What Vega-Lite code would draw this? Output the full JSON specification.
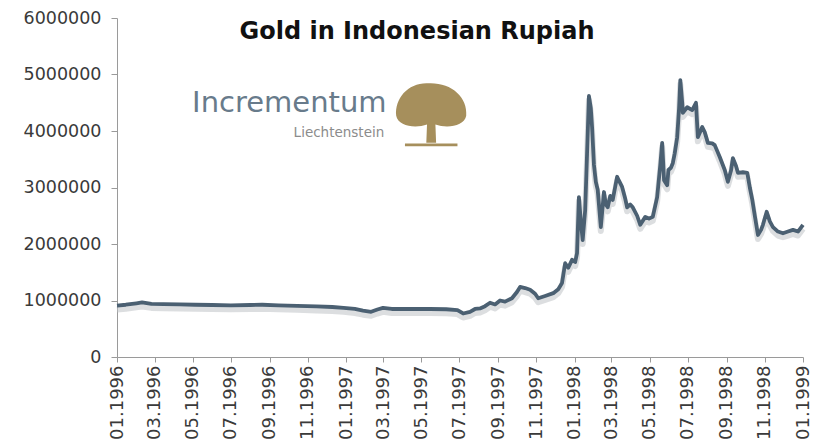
{
  "$schema": "https://vega.github.io/schema/vega-lite/v6.json",
  "width": 686,
  "height": 339,
  "autosize": {"type": "none"},
  "padding": {"left": 117, "top": 18, "right": 18, "bottom": 89},
  "background": "white",
  "config": {"view": {"stroke": null}, "font": "DejaVu Sans"},
  "title": {
    "text": "Gold in Indonesian Rupiah",
    "font": "DejaVu Sans",
    "fontSize": 24,
    "fontWeight": "bold",
    "color": "#111111",
    "anchor": "middle",
    "orient": "top",
    "offset": 0,
    "baseline": "alphabetic",
    "dx": -43,
    "dy": 54
  },
  "datasets": {
    "gold": [
      {"date": "1996-01-01", "price": 910000},
      {"date": "1996-01-15", "price": 925000},
      {"date": "1996-02-01", "price": 950000},
      {"date": "1996-02-10", "price": 965000},
      {"date": "1996-02-25", "price": 940000},
      {"date": "1996-03-15", "price": 935000},
      {"date": "1996-04-10", "price": 930000},
      {"date": "1996-05-05", "price": 925000},
      {"date": "1996-06-01", "price": 920000},
      {"date": "1996-07-01", "price": 915000},
      {"date": "1996-08-01", "price": 920000},
      {"date": "1996-08-20", "price": 925000},
      {"date": "1996-09-15", "price": 915000},
      {"date": "1996-10-15", "price": 905000},
      {"date": "1996-11-15", "price": 895000},
      {"date": "1996-12-10", "price": 885000},
      {"date": "1996-12-28", "price": 870000},
      {"date": "1997-01-15", "price": 850000},
      {"date": "1997-01-28", "price": 820000},
      {"date": "1997-02-10", "price": 800000},
      {"date": "1997-02-20", "price": 840000},
      {"date": "1997-03-01", "price": 870000},
      {"date": "1997-03-15", "price": 850000},
      {"date": "1997-04-15", "price": 850000},
      {"date": "1997-05-15", "price": 850000},
      {"date": "1997-06-10", "price": 845000},
      {"date": "1997-06-28", "price": 830000},
      {"date": "1997-07-07", "price": 770000},
      {"date": "1997-07-18", "price": 800000},
      {"date": "1997-07-26", "price": 850000},
      {"date": "1997-08-03", "price": 860000},
      {"date": "1997-08-11", "price": 900000},
      {"date": "1997-08-19", "price": 960000},
      {"date": "1997-08-27", "price": 930000},
      {"date": "1997-09-04", "price": 1000000},
      {"date": "1997-09-12", "price": 980000},
      {"date": "1997-09-23", "price": 1040000},
      {"date": "1997-10-01", "price": 1150000},
      {"date": "1997-10-06", "price": 1240000},
      {"date": "1997-10-14", "price": 1220000},
      {"date": "1997-10-22", "price": 1190000},
      {"date": "1997-10-30", "price": 1120000},
      {"date": "1997-11-04", "price": 1040000},
      {"date": "1997-11-15", "price": 1080000},
      {"date": "1997-11-28", "price": 1130000},
      {"date": "1997-12-06", "price": 1200000},
      {"date": "1997-12-12", "price": 1310000},
      {"date": "1997-12-17", "price": 1660000},
      {"date": "1997-12-22", "price": 1580000},
      {"date": "1997-12-28", "price": 1720000},
      {"date": "1998-01-02", "price": 1680000},
      {"date": "1998-01-05", "price": 1840000},
      {"date": "1998-01-08", "price": 2830000},
      {"date": "1998-01-11", "price": 2400000},
      {"date": "1998-01-14", "price": 2070000},
      {"date": "1998-01-18", "price": 2600000},
      {"date": "1998-01-21", "price": 3600000},
      {"date": "1998-01-24", "price": 4620000},
      {"date": "1998-01-27", "price": 4400000},
      {"date": "1998-01-29", "price": 4070000},
      {"date": "1998-02-01", "price": 3400000},
      {"date": "1998-02-04", "price": 3100000},
      {"date": "1998-02-07", "price": 2960000},
      {"date": "1998-02-12", "price": 2300000},
      {"date": "1998-02-17", "price": 2920000},
      {"date": "1998-02-20", "price": 2700000},
      {"date": "1998-02-23", "price": 2650000},
      {"date": "1998-02-27", "price": 2850000},
      {"date": "1998-03-03", "price": 2780000},
      {"date": "1998-03-10", "price": 3190000},
      {"date": "1998-03-13", "price": 3120000},
      {"date": "1998-03-18", "price": 3010000},
      {"date": "1998-03-23", "price": 2800000},
      {"date": "1998-03-26", "price": 2650000},
      {"date": "1998-03-31", "price": 2700000},
      {"date": "1998-04-04", "price": 2650000},
      {"date": "1998-04-11", "price": 2500000},
      {"date": "1998-04-16", "price": 2340000},
      {"date": "1998-04-24", "price": 2480000},
      {"date": "1998-04-30", "price": 2450000},
      {"date": "1998-05-06", "price": 2480000},
      {"date": "1998-05-13", "price": 2830000},
      {"date": "1998-05-18", "price": 3400000},
      {"date": "1998-05-21", "price": 3790000},
      {"date": "1998-05-24", "price": 3130000},
      {"date": "1998-05-29", "price": 3040000},
      {"date": "1998-05-31", "price": 3310000},
      {"date": "1998-06-04", "price": 3350000},
      {"date": "1998-06-07", "price": 3430000},
      {"date": "1998-06-10", "price": 3600000},
      {"date": "1998-06-14", "price": 3890000},
      {"date": "1998-06-17", "price": 4400000},
      {"date": "1998-06-19", "price": 4900000},
      {"date": "1998-06-22", "price": 4500000},
      {"date": "1998-06-23", "price": 4320000},
      {"date": "1998-06-30", "price": 4420000},
      {"date": "1998-07-08", "price": 4370000},
      {"date": "1998-07-14", "price": 4500000},
      {"date": "1998-07-17", "price": 3890000},
      {"date": "1998-07-24", "price": 4070000},
      {"date": "1998-07-28", "price": 3980000},
      {"date": "1998-08-02", "price": 3790000},
      {"date": "1998-08-09", "price": 3780000},
      {"date": "1998-08-13", "price": 3750000},
      {"date": "1998-08-21", "price": 3540000},
      {"date": "1998-08-29", "price": 3310000},
      {"date": "1998-09-03", "price": 3100000},
      {"date": "1998-09-08", "price": 3300000},
      {"date": "1998-09-11", "price": 3520000},
      {"date": "1998-09-16", "price": 3380000},
      {"date": "1998-09-19", "price": 3260000},
      {"date": "1998-09-27", "price": 3270000},
      {"date": "1998-10-04", "price": 3260000},
      {"date": "1998-10-08", "price": 3000000},
      {"date": "1998-10-12", "price": 2780000},
      {"date": "1998-10-16", "price": 2500000},
      {"date": "1998-10-21", "price": 2160000},
      {"date": "1998-10-26", "price": 2250000},
      {"date": "1998-10-29", "price": 2340000},
      {"date": "1998-11-04", "price": 2570000},
      {"date": "1998-11-09", "price": 2400000},
      {"date": "1998-11-14", "price": 2300000},
      {"date": "1998-11-22", "price": 2220000},
      {"date": "1998-11-30", "price": 2190000},
      {"date": "1998-12-08", "price": 2220000},
      {"date": "1998-12-16", "price": 2250000},
      {"date": "1998-12-24", "price": 2220000},
      {"date": "1999-01-01", "price": 2340000}
    ],
    "logo": [
      {"date": "1996-04-30", "price": 4330000, "label": "Incrementum", "kind": "main"},
      {"date": "1997-03-03", "price": 3890000, "label": "Liechtenstein", "kind": "sub"}
    ],
    "tree": [
      {"date": "1997-05-17", "price": 4300000}
    ]
  },
  "layer": [
    {
      "data": {"name": "gold"},
      "mark": {"type": "line", "stroke": "#bfc3c7", "strokeWidth": 6, "opacity": 0.55, "yOffset": 4, "strokeJoin": "round"},
      "encoding": {
        "x": {"field": "date", "type": "temporal", "scale": {"type": "utc", "domain": [{"year": 1996, "month": 1, "date": 1, "utc": true}, {"year": 1999, "month": 1, "date": 1, "utc": true}], "nice": false},
          "axis": {
            "title": null,
            "tickCount": {"interval": "month", "step": 2},
            "format": "%m.%Y",
            "labelAngle": -90,
            "labelFontSize": 18,
            "labelColor": "#3a3a3a",
            "labelPadding": 3,
            "labelOverlap": false,
            "labelFlush": false,
            "labelBound": false,
            "domainColor": "#9a9a9a",
            "tickColor": "#9a9a9a",
            "tickSize": 5,
            "grid": false
          }
        },
        "y": {"field": "price", "type": "quantitative", "scale": {"domain": [0, 6000000], "nice": false},
          "axis": {
            "title": null,
            "values": [0, 1000000, 2000000, 3000000, 4000000, 5000000, 6000000],
            "format": "d",
            "labelFontSize": 17.5,
            "labelColor": "#3a3a3a",
            "labelPadding": 10,
            "domainColor": "#9a9a9a",
            "tickColor": "#9a9a9a",
            "tickSize": 6,
            "grid": false
          }
        }
      }
    },
    {
      "data": {"name": "gold"},
      "mark": {"type": "line", "stroke": "#4b6072", "strokeWidth": 3.8, "strokeJoin": "round"},
      "encoding": {
        "x": {"field": "date", "type": "temporal"},
        "y": {"field": "price", "type": "quantitative"}
      }
    },
    {
      "data": {"name": "logo"},
      "transform": [{"filter": "datum.kind === 'main'"}],
      "mark": {"type": "text", "align": "left", "baseline": "alphabetic", "font": "DejaVu Sans", "fontSize": 29, "color": "#687b8b"},
      "encoding": {
        "x": {"field": "date", "type": "temporal"},
        "y": {"field": "price", "type": "quantitative"},
        "text": {"field": "label"}
      }
    },
    {
      "data": {"name": "logo"},
      "transform": [{"filter": "datum.kind === 'sub'"}],
      "mark": {"type": "text", "align": "right", "baseline": "alphabetic", "font": "DejaVu Sans", "fontSize": 13.5, "color": "#8c8c8c"},
      "encoding": {
        "x": {"field": "date", "type": "temporal"},
        "y": {"field": "price", "type": "quantitative"},
        "text": {"field": "label"}
      }
    },
    {
      "data": {"name": "tree"},
      "mark": {"type": "point", "filled": true, "color": "#a68f5c", "opacity": 1, "size": 4900,
        "shape": "M-1,0.05 C-1.05,-0.45 -0.65,-0.9 -0.1,-0.88 C0.55,-0.92 1.05,-0.5 1,0.05 C0.95,0.35 0.45,0.42 0.12,0.3 L0.14,0.82 L-0.14,0.82 L-0.12,0.3 C-0.45,0.42 -0.95,0.35 -1,0.05 Z M-0.75,0.84 L0.75,0.84 L0.75,0.92 L-0.75,0.92 Z"},
      "encoding": {
        "x": {"field": "date", "type": "temporal"},
        "y": {"field": "price", "type": "quantitative"}
      }
    }
  ]
}
